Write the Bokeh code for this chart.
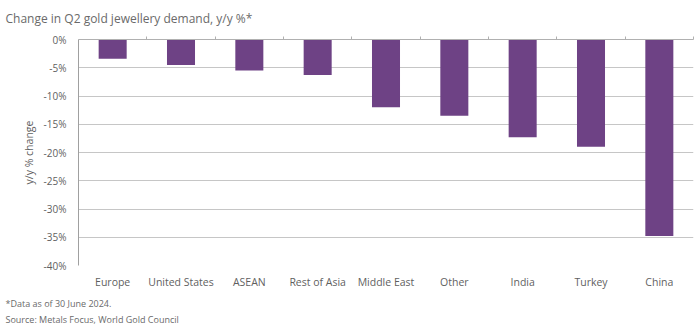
from bokeh.plotting import figure
from bokeh.models import FixedTicker, LinearAxis, Title, Range1d
from bokeh.embed import file_html
from bokeh.resources import INLINE

categories = ["Europe", "United States", "ASEAN", "Rest of Asia", "Middle East",
              "Other", "India", "Turkey", "China"]
values = [-3.4, -4.5, -5.5, -6.3, -12.0, -13.5, -17.3, -19.0, -34.8]
y_ticks = [0, -5, -10, -15, -20, -25, -30, -35, -40]
y_tick_labels = ["0%", "-5%", "-10%", "-15%", "-20%", "-25%", "-30%", "-35%", "-40%"]

FONT = "Open Sans"
GREY = "#5f5f5f"
TGREY = "#6a6a6a"

p = figure(width=700, height=330, output_backend="svg", toolbar_location=None,
           x_range=Range1d(0, len(categories)), y_range=Range1d(-40, 0),
           x_axis_location=None, y_axis_location=None)
p.min_border_left = 78
p.min_border_right = 7
p.min_border_top = 39
p.min_border_bottom = 65
p.outline_line_color = None
p.background_fill_color = "white"
p.border_fill_color = "white"

xs = [i + 0.5 for i in range(len(categories))]
p.vbar(x=xs, top=values, bottom=0, width=0.41, color="#6E4285", line_color=None)

# grid
p.xgrid.visible = False
p.ygrid.ticker = FixedTicker(ticks=y_ticks)
p.ygrid.grid_line_color = "#c6c6c6"
p.ygrid.grid_line_width = 1

# left axis
yax = LinearAxis(ticker=FixedTicker(ticks=y_ticks),
                 major_label_overrides={t: l for t, l in zip(y_ticks, y_tick_labels)})
yax.axis_line_color = "#a0a0a0"
yax.major_tick_line_color = None
yax.minor_tick_line_color = None
yax.major_label_text_font = FONT
yax.major_label_text_font_size = "10px"
yax.major_label_text_color = GREY
yax.major_label_standoff = 6
yax.axis_label = "y/y % change"
yax.axis_label_text_font = FONT
yax.axis_label_text_font_style = "normal"
yax.axis_label_text_font_size = "10.5px"
yax.axis_label_text_color = GREY
yax.axis_label_standoff = 5
p.add_layout(yax, "left")

# bottom axis with category labels
xax = LinearAxis(ticker=FixedTicker(ticks=xs),
                 major_label_overrides={x: c for x, c in zip(xs, categories)})
xax.axis_line_color = None
xax.major_tick_line_color = None
xax.minor_tick_line_color = None
xax.major_label_text_font = FONT
xax.major_label_text_font_size = "10.5px"
xax.major_label_text_color = GREY
xax.major_label_standoff = 3
p.add_layout(xax, "below")

# top axis line with small boundary ticks
tax = LinearAxis(ticker=FixedTicker(ticks=list(range(1, len(categories) + 1))))
tax.axis_line_color = "#b0b0b0"
tax.major_tick_line_color = "#b0b0b0"
tax.major_tick_out = 3
tax.major_tick_in = 0
tax.minor_tick_line_color = None
tax.major_label_text_font_size = "0px"
tax.major_label_text_color = None
tax.major_label_standoff = 0
p.add_layout(tax, "above")

# title
title = Title(text="Change in Q2 gold jewellery demand, y/y %*", align="left",
              offset=-73, text_font=FONT, text_font_size="12px",
              text_font_style="normal", text_color=TGREY, standoff=16,
              vertical_align="top")
p.add_layout(title, "above")

# footnotes
note1 = Title(text="*Data as of 30 June 2024.", align="left", offset=-73,
              text_font=FONT, text_font_size="9px", text_font_style="normal",
              text_color=TGREY, standoff=6, vertical_align="bottom")
note2 = Title(text="Source: Metals Focus, World Gold Council", align="left", offset=-73,
              text_font=FONT, text_font_size="9px", text_font_style="normal",
              text_color=TGREY, standoff=0, vertical_align="top")
p.add_layout(note1, "below")
p.add_layout(note2, "below")

open("out.html", "w").write(file_html(p, INLINE))
